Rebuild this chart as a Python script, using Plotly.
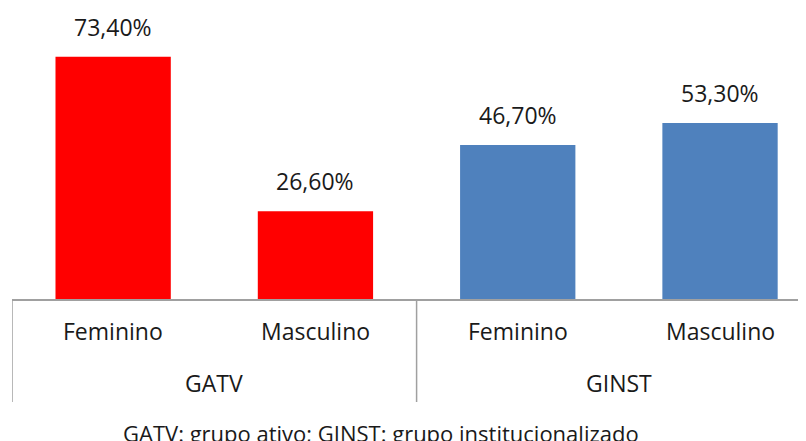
import plotly.graph_objects as go

grupos = ["GATV", "GATV", "GINST", "GINST"]
sexos = ["Feminino", "Masculino", "Feminino", "Masculino"]
valores = [73.4, 26.6, 46.7, 53.3]
rotulos = ["73,40%", "26,60%", "46,70%", "53,30%"]
cores = ["#FF0000", "#FF0000", "#4F81BD", "#4F81BD"]
nota = "GATV: grupo ativo; GINST: grupo institucionalizado"

TXT = "#1a1a1a"
LINHA = "#a0a0a0"
ALTURA = 291  # altura da área do gráfico em px

fig = go.Figure(go.Bar(
    x=[grupos, sexos],
    y=valores,
    marker_color=cores,
    marker_line_width=0,
))

# rótulos de dados
for i, (v, t) in enumerate(zip(valores, rotulos)):
    fig.add_annotation(x=i, y=v, text=t, showarrow=False, yshift=30,
                       yanchor="middle", font=dict(size=23, color=TXT))

# primeira linha de categorias
for i, s in enumerate(sexos):
    fig.add_annotation(x=i, y=0, yref="paper", text=s, showarrow=False,
                       yanchor="middle", yshift=-32, font=dict(size=23, color=TXT))

# segunda linha (grupos) e divisores
nomes = list(dict.fromkeys(grupos))
for g in nomes:
    idx = [i for i, x in enumerate(grupos) if x == g]
    fig.add_annotation(x=sum(idx) / len(idx), y=0, yref="paper", text=g,
                       showarrow=False, yanchor="middle", yshift=-84,
                       font=dict(size=23, color=TXT))
    fig.add_shape(type="line", x0=idx[0] - 0.5, x1=idx[0] - 0.5,
                  y0=0, y1=-103 / ALTURA, yref="paper",
                  line=dict(color=LINHA, width=1.5))

fig.add_annotation(x=0.465, y=0, xref="paper", yref="paper", yshift=-134,
                   xanchor="center", yanchor="middle", text=nota, showarrow=False,
                   font=dict(size=22, color=TXT))

fig.update_layout(
    width=798, height=433,
    margin=dict(l=4, r=0, t=0, b=433 - ALTURA),
    plot_bgcolor="white", paper_bgcolor="white",
    bargap=0.43,
    showlegend=False,
    font=dict(family="Open Sans", size=23, color=TXT),
    xaxis=dict(
        range=[-0.5, 3.425], automargin=False,
        showline=True, linecolor=LINHA, linewidth=1.5,
        showdividers=False, showticklabels=False, ticks="",
    ),
    yaxis=dict(range=[0, ALTURA / 3.3], visible=False, showgrid=False,
               automargin=False),
)

fig.write_html("out.html")
